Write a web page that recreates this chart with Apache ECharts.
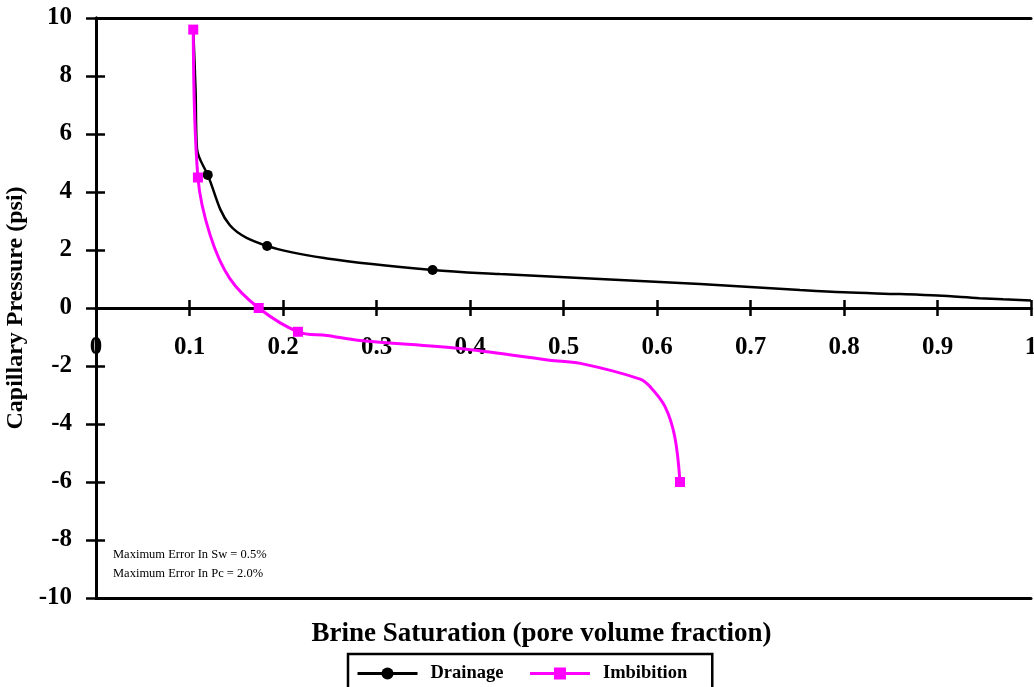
<!DOCTYPE html>
<html>
<head>
<meta charset="utf-8">
<script src="https://cdn.jsdelivr.net/npm/echarts@6/dist/echarts.min.js"></script>
<style>
  html, body { margin: 0; padding: 0; background: #fff; }
  #chart { width: 1034px; height: 687px; }
</style>
</head>
<body>
<div id="chart"></div>
<script>
// Drainage curve (Sw, Pc); marked = point drawn with a marker
const drainageSw = [0.104, 0.1065, 0.108, 0.1195, 0.143, 0.183, 0.247, 0.36, 0.432, 0.539, 0.646, 0.753, 0.8, 0.86, 0.9, 0.945, 0.97, 1.0]
const drainagePc = [9.6, 7.5, 5.5, 4.59, 2.86, 2.14, 1.71, 1.31, 1.17, 1.0, 0.83, 0.62, 0.54, 0.48, 0.43, 0.34, 0.3, 0.26]
const drainageMarked = [false, false, false, true, false, true, false, true, false, false, false, false, false, false, false, false, false, false]

// Imbibition curve
const imbibitionSw = [0.104, 0.109, 0.122, 0.143, 0.174, 0.216, 0.247, 0.282, 0.389, 0.485, 0.518, 0.582, 0.5925, 0.6086, 0.619, 0.6246]
const imbibitionPc = [9.6, 4.5, 2.52, 1.02, 0, -0.82, -0.95, -1.12, -1.4, -1.8, -1.91, -2.45, -2.71, -3.4, -4.44, -6.0]
const imbibitionMarked = [true, true, false, false, true, true, false, false, false, false, false, false, false, false, false, true]

const notes = ['Maximum Error In Sw = 0.5%', 'Maximum Error In Pc = 2.0%']

const serif = '"Liberation Serif", "Times New Roman", serif'

function buildData(xs, ys, marked) {
    return xs.map((x, i) => ({ value: [x, ys[i]], symbol: marked[i] ? undefined : 'none' }))
}

const chartDom = document.getElementById('chart')
const myChart = echarts.init(chartDom)

const lineStyle = { color: '#000', width: 3 }
const tickStyle = { color: '#000', width: 2.5 }
const noPart = { show: false }
const base = { left: 96, right: 3, containLabel: false, outerBoundsMode: 'none' }

const option = {
    animation: false,
    grid: [
        { ...base, top: 18, bottom: 89 },   // 0: data, y labels, frame
        { ...base, top: 18, bottom: 89 },   // 1: inner half of the y ticks
        { ...base, top: 18, bottom: 379 },  // 2: upper half, x axis on zero with labels
        { ...base, top: 308, bottom: 89 }   // 3: lower half, upper half of the x ticks
    ],
    xAxis: [
        {
            gridIndex: 0, type: 'value', min: 0, max: 1, position: 'top',
            axisLine: { show: true, onZero: false, lineStyle: lineStyle },
            axisTick: noPart, axisLabel: noPart, splitLine: noPart
        },
        {
            gridIndex: 1, type: 'value', min: 0, max: 1, position: 'bottom',
            axisLine: { show: true, onZero: false, lineStyle: lineStyle },
            axisTick: noPart, axisLabel: noPart, splitLine: noPart,
            name: 'Brine Saturation (pore volume fraction)',
            nameLocation: 'middle', nameGap: 23,
            nameTextStyle: {
                color: '#000', fontFamily: serif, fontWeight: 'bold', fontSize: 27,
                padding: [0, 44, 0, 0]
            }
        },
        {
            gridIndex: 2, type: 'value', min: 0, max: 1, interval: 0.1, position: 'bottom',
            axisLine: { show: true, onZero: false, lineStyle: lineStyle },
            axisTick: { show: true, inside: false, length: 8, lineStyle: tickStyle },
            axisLabel: {
                color: '#000', fontFamily: serif, fontWeight: 'bold', fontSize: 25, margin: 27,
                formatter: v => String(Math.round(v * 10) / 10)
            },
            splitLine: noPart
        },
        {
            gridIndex: 3, type: 'value', min: 0, max: 1, interval: 0.1, position: 'top',
            axisLine: { show: true, onZero: false, lineStyle: lineStyle },
            axisTick: { show: true, inside: false, length: 8, lineStyle: tickStyle },
            axisLabel: noPart, splitLine: noPart
        }
    ],
    yAxis: [
        {
            gridIndex: 0, type: 'value', min: -10, max: 10, interval: 2, position: 'left',
            axisLine: { show: true, onZero: false, lineStyle: lineStyle },
            axisTick: { show: true, inside: false, length: 10, lineStyle: tickStyle },
            axisLabel: { color: '#000', fontFamily: serif, fontWeight: 'bold', fontSize: 25, margin: 24 },
            splitLine: noPart,
            name: 'Capillary Pressure (psi)',
            nameLocation: 'middle', nameGap: 55, nameRotate: 90,
            nameTextStyle: { color: '#000', fontFamily: serif, fontWeight: 'bold', fontSize: 24 }
        },
        {
            gridIndex: 1, type: 'value', min: -10, max: 10, interval: 2, position: 'left',
            axisLine: { show: true, onZero: false, lineStyle: lineStyle },
            axisTick: { show: true, inside: true, length: 9, lineStyle: tickStyle },
            axisLabel: noPart, splitLine: noPart
        },
        { gridIndex: 2, type: 'value', min: 0, max: 10, show: false },
        { gridIndex: 3, type: 'value', min: -10, max: 0, show: false }
    ],
    legend: {
        left: 348, top: 654,
        padding: [10, 25, 20, 8],
        borderColor: '#000', borderWidth: 2.5,
        itemWidth: 60, itemHeight: 15, itemGap: 25,
        lineStyle: { width: 3 },
        textStyle: { color: '#000', fontFamily: serif, fontWeight: 'bold', fontSize: 18.5, padding: [0, 0, 0, 8] },
        data: ['Drainage', 'Imbibition']
    },
    graphic: [
        {
            type: 'text', left: 113, top: 545,
            style: {
                text: notes.join('\n'), fill: '#000',
                font: '12.5px ' + serif, lineHeight: 19
            }
        }
    ],
    series: [
        {
            name: 'Drainage', type: 'line', xAxisIndex: 0, yAxisIndex: 0,
            smooth: 0.35,
            symbol: 'circle', symbolSize: 10,
            lineStyle: { color: '#000', width: 2.5 },
            itemStyle: { color: '#000' },
            data: buildData(drainageSw, drainagePc, drainageMarked)
        },
        {
            name: 'Imbibition', type: 'line', xAxisIndex: 0, yAxisIndex: 0,
            smooth: 0.35,
            symbol: 'rect', symbolSize: 10,
            lineStyle: { color: '#ff00ff', width: 3 },
            itemStyle: { color: '#ff00ff' },
            data: buildData(imbibitionSw, imbibitionPc, imbibitionMarked)
        }
    ]
}

myChart.setOption(option)
</script>
</body>
</html>
